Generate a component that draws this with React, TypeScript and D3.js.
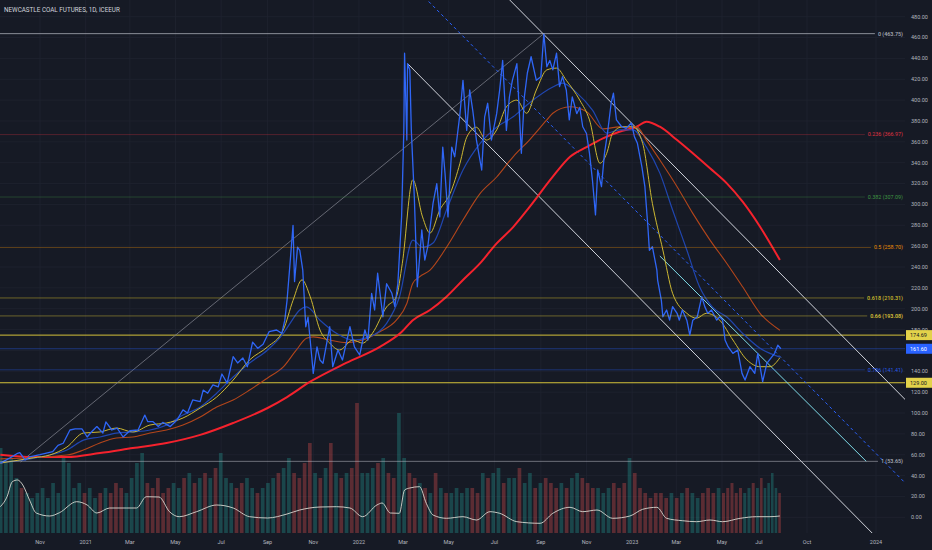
import React, { useRef, useEffect } from 'react';
import * as d3 from 'd3';

// Chart text
const title = 'NEWCASTLE COAL FUTURES, 1D, ICEEUR';

// Close prices [date, USD/t]
const priceData: [string, number][] = [
  ['2020-09-09', 52], ['2020-09-22', 57], ['2020-10-01', 61], ['2020-10-05', 62], ['2020-10-12', 55],
  ['2020-10-18', 58], ['2020-11-01', 60], ['2020-11-18', 63], ['2020-11-25', 69], ['2020-12-02', 71],
  ['2020-12-11', 83.7], ['2020-12-18', 84.7], ['2020-12-27', 84.7], ['2021-01-03', 77], ['2021-01-09', 82],
  ['2021-01-16', 87], ['2021-01-24', 80.8], ['2021-01-28', 91.4], ['2021-02-05', 83.7], ['2021-02-12', 85.6],
  ['2021-02-20', 77], ['2021-03-01', 83], ['2021-03-12', 83.7], ['2021-03-21', 98], ['2021-03-25', 91.7],
  ['2021-04-01', 91.7], ['2021-04-08', 87], ['2021-04-14', 91], ['2021-04-24', 87], ['2021-05-03', 93.3],
  ['2021-05-11', 103], ['2021-05-17', 100], ['2021-05-24', 112.5], ['2021-06-03', 111], ['2021-06-07', 122],
  ['2021-06-13', 119], ['2021-06-20', 127], ['2021-06-27', 125], ['2021-07-02', 137.4], ['2021-07-09', 128.7],
  ['2021-07-17', 154], ['2021-07-23', 148], ['2021-07-30', 152.7], ['2021-08-05', 144.4], ['2021-08-12', 168],
  ['2021-08-19', 162], ['2021-08-26', 166], ['2021-09-03', 178], ['2021-09-13', 179.6], ['2021-09-20', 176.4],
  ['2021-09-24', 189], ['2021-09-27', 208], ['2021-10-01', 243.5], ['2021-10-05', 280], ['2021-10-07', 226],
  ['2021-10-11', 259], ['2021-10-14', 256], ['2021-10-18', 237], ['2021-10-22', 182.7], ['2021-10-25', 192],
  ['2021-10-30', 154], ['2021-11-01', 138], ['2021-11-06', 163.5], ['2021-11-10', 150.8], ['2021-11-14', 147.6],
  ['2021-11-23', 182.7], ['2021-11-27', 144.4], ['2021-12-04', 160.4], ['2021-12-10', 150.8], ['2021-12-20', 182.7],
  ['2021-12-26', 163.5], ['2022-01-02', 155.6], ['2022-01-09', 179.6], ['2022-01-13', 170], ['2022-01-18', 214.8],
  ['2022-01-22', 198.8], ['2022-01-26', 234], ['2022-02-02', 192.3], ['2022-02-07', 224], ['2022-02-14', 214.8],
  ['2022-02-18', 202], ['2022-02-22', 224], ['2022-02-27', 288], ['2022-03-02', 371], ['2022-03-03', 445],
  ['2022-03-06', 361.7], ['2022-03-07', 435], ['2022-03-10', 429], ['2022-03-12', 371], ['2022-03-16', 307],
  ['2022-03-20', 221], ['2022-03-26', 275.5], ['2022-03-30', 246.7], ['2022-04-03', 259.5], ['2022-04-10', 301],
  ['2022-04-15', 320], ['2022-04-19', 288], ['2022-04-23', 355], ['2022-04-26', 330], ['2022-04-30', 288],
  ['2022-05-05', 355], ['2022-05-09', 345.7], ['2022-05-16', 387], ['2022-05-20', 419], ['2022-05-25', 371],
  ['2022-05-29', 409.7], ['2022-06-02', 390.5], ['2022-06-07', 361.7], ['2022-06-14', 333], ['2022-06-18', 384],
  ['2022-06-22', 397], ['2022-06-27', 361.7], ['2022-07-04', 387], ['2022-07-08', 409.7], ['2022-07-12', 438],
  ['2022-07-17', 371], ['2022-07-21', 403], ['2022-07-25', 419], ['2022-07-31', 435], ['2022-08-06', 349],
  ['2022-08-10', 403], ['2022-08-14', 426], ['2022-08-19', 441.6], ['2022-08-26', 419], ['2022-09-01', 422.5],
  ['2022-09-05', 463.75], ['2022-09-09', 432], ['2022-09-13', 438], ['2022-09-17', 429], ['2022-09-22', 445],
  ['2022-09-26', 413], ['2022-09-30', 422.5], ['2022-10-05', 409.7], ['2022-10-09', 381], ['2022-10-13', 403],
  ['2022-10-19', 387], ['2022-10-23', 393], ['2022-10-27', 374.5], ['2022-11-01', 368], ['2022-11-05', 349],
  ['2022-11-09', 323], ['2022-11-13', 290], ['2022-11-16', 333], ['2022-11-21', 317], ['2022-11-25', 349],
  ['2022-11-29', 368], ['2022-12-04', 397.5], ['2022-12-07', 406.6], ['2022-12-11', 381], ['2022-12-18', 374.5],
  ['2022-12-24', 373], ['2022-12-31', 378], ['2023-01-04', 365], ['2023-01-08', 358.6], ['2023-01-14', 336],
  ['2023-01-18', 317], ['2023-01-22', 278.6], ['2023-01-24', 256], ['2023-01-28', 259.5], ['2023-02-03', 237],
  ['2023-02-04', 227.5], ['2023-02-09', 208], ['2023-02-11', 192.3], ['2023-02-16', 198.8], ['2023-02-20', 189],
  ['2023-02-24', 202], ['2023-03-02', 195.6], ['2023-03-05', 189], ['2023-03-09', 198.8], ['2023-03-15', 189],
  ['2023-03-19', 174.8], ['2023-03-23', 189], ['2023-03-29', 192.3], ['2023-04-04', 211.5], ['2023-04-08', 202],
  ['2023-04-12', 195.6], ['2023-04-17', 198.8], ['2023-04-24', 189], ['2023-04-28', 192.3], ['2023-05-02', 189],
  ['2023-05-06', 170], ['2023-05-11', 163.6], ['2023-05-19', 157.2], ['2023-05-27', 160.4], ['2023-06-03', 138],
  ['2023-06-08', 131.6], ['2023-06-16', 144.4], ['2023-06-24', 138], ['2023-06-29', 157.2], ['2023-07-08', 130],
  ['2023-07-16', 147.6], ['2023-07-26', 154], ['2023-07-31', 157.2], ['2023-08-06', 165], ['2023-08-12', 161.6],
];

// Moving averages
const maFast: [string, number][] = [
  ['2020-09-09', 52], ['2020-10-23', 57], ['2020-11-14', 59.7], ['2020-12-07', 67.4], ['2020-12-29', 80.8],
  ['2021-01-20', 81.8], ['2021-02-11', 85.6], ['2021-03-05', 81.8], ['2021-03-28', 88.5], ['2021-04-19', 90.4],
  ['2021-05-11', 95.2], ['2021-06-03', 104.8], ['2021-06-25', 115.3], ['2021-07-17', 131.6], ['2021-08-08', 150.9],
  ['2021-09-01', 163.4], ['2021-09-22', 179.6], ['2021-10-05', 208], ['2021-10-17', 227.7], ['2021-10-28', 211.4],
  ['2021-11-10', 179.6], ['2021-11-23', 167.1], ['2021-12-06', 160.4], ['2021-12-24', 170], ['2022-01-06', 167],
  ['2022-01-19', 176.4], ['2022-02-07', 201.7], ['2022-02-20', 211.4], ['2022-02-28', 243.6], ['2022-03-14', 323.6],
  ['2022-03-27', 288], ['2022-04-06', 272.5], ['2022-04-19', 294.6], ['2022-05-03', 310.7], ['2022-05-16', 339.5],
  ['2022-05-25', 364.4], ['2022-06-07', 374], ['2022-06-20', 361.7], ['2022-07-04', 371.4], ['2022-07-17', 393.6],
  ['2022-07-31', 400], ['2022-08-13', 387.4], ['2022-08-26', 409.7], ['2022-09-09', 429], ['2022-09-22', 430.7],
  ['2022-10-05', 419], ['2022-10-23', 400], ['2022-11-05', 381], ['2022-11-19', 339.5], ['2022-11-28', 349],
  ['2022-12-06', 368.4], ['2022-12-19', 374.4], ['2023-01-02', 374.4], ['2023-01-15', 358.6], ['2023-01-28', 301],
  ['2023-02-11', 256.3], ['2023-02-24', 214.8], ['2023-03-15', 195.6], ['2023-03-28', 190.9], ['2023-04-10', 195.6],
  ['2023-04-28', 189], ['2023-05-19', 170], ['2023-06-11', 151], ['2023-07-03', 144.4], ['2023-07-22', 144.4],
  ['2023-08-10', 153],
];
const maMid: [string, number][] = [
  ['2020-09-09', 52], ['2020-11-14', 59.7], ['2020-12-07', 64.5], ['2020-12-29', 74], ['2021-01-20', 77],
  ['2021-02-11', 80.8], ['2021-03-05', 81.8], ['2021-03-28', 83.7], ['2021-04-19', 88.5], ['2021-05-11', 98],
  ['2021-06-03', 105.8], ['2021-06-25', 119], ['2021-07-17', 134.5], ['2021-08-08', 148], ['2021-09-01', 160.4],
  ['2021-09-22', 176.4], ['2021-10-01', 186], ['2021-10-14', 198.8], ['2021-10-23', 201.7], ['2021-11-10', 189],
  ['2021-12-02', 176.4], ['2021-12-24', 170], ['2022-01-15', 173], ['2022-02-07', 186], ['2022-02-24', 211],
  ['2022-03-14', 265.8], ['2022-03-27', 259], ['2022-04-10', 263], ['2022-04-28', 294.6], ['2022-05-20', 333],
  ['2022-06-12', 358.6], ['2022-07-04', 374], ['2022-07-26', 384], ['2022-08-17', 397.5], ['2022-09-17', 412.6],
  ['2022-09-30', 416.4], ['2022-10-19', 407], ['2022-11-09', 390.5], ['2022-11-28', 368.4], ['2022-12-15', 371.4],
  ['2023-01-02', 371.4], ['2023-01-20', 355], ['2023-02-07', 330], ['2023-02-24', 294.6], ['2023-03-15', 256.3],
  ['2023-04-01', 221], ['2023-04-18', 201.7], ['2023-05-09', 192], ['2023-06-04', 176.4], ['2023-07-03', 162],
  ['2023-08-10', 153.6],
];
const maSlow: [string, number][] = [
  ['2020-09-09', 56], ['2020-12-07', 59.7], ['2020-12-29', 64.5], ['2021-01-20', 71.2], ['2021-02-11', 76],
  ['2021-03-05', 77], ['2021-03-28', 80.8], ['2021-04-19', 83.7], ['2021-05-11', 88.5], ['2021-06-03', 96.2],
  ['2021-06-25', 105.8], ['2021-07-17', 112.5], ['2021-08-08', 122], ['2021-09-01', 133.6], ['2021-09-22', 144.2],
  ['2021-10-09', 160], ['2021-10-23', 171.6], ['2021-11-01', 173], ['2021-11-23', 170], ['2021-12-15', 167.5],
  ['2022-01-06', 170], ['2022-01-29', 178], ['2022-02-20', 189], ['2022-03-06', 205], ['2022-03-14', 224.5],
  ['2022-03-23', 230.6], ['2022-04-06', 237], ['2022-04-28', 259], ['2022-05-20', 285], ['2022-06-12', 310.6],
  ['2022-07-04', 326.3], ['2022-07-26', 345.7], ['2022-08-17', 362], ['2022-09-09', 381], ['2022-09-17', 387.4],
  ['2022-10-10', 393.6], ['2022-11-01', 389], ['2022-11-23', 372.4], ['2022-12-15', 374.4], ['2023-01-07', 374.4],
  ['2023-01-20', 361.7], ['2023-02-07', 342.6], ['2023-03-02', 317], ['2023-03-23', 291.4], ['2023-04-15', 265.8],
  ['2023-05-09', 243.4], ['2023-06-04', 221], ['2023-07-03', 195.6], ['2023-08-10', 179.4],
];
const maLong: [string, number][] = [
  ['2020-09-09', 60], ['2020-10-23', 57.8], ['2020-12-07', 57.8], ['2021-01-20', 61.6], ['2021-03-05', 66.4],
  ['2021-04-19', 71.2], ['2021-06-03', 79], ['2021-07-17', 90.4], ['2021-09-01', 104.8], ['2021-09-27', 115.3],
  ['2021-10-28', 130], ['2021-12-15', 148], ['2022-01-29', 163.4], ['2022-02-27', 177.6], ['2022-03-14', 189],
  ['2022-04-06', 198.8], ['2022-04-28', 211.5], ['2022-05-20', 227.5], ['2022-06-12', 243.7], ['2022-07-04', 262.6],
  ['2022-07-26', 278.3], ['2022-08-17', 297.6], ['2022-09-17', 326.6], ['2022-10-10', 345.7], ['2022-11-01', 355],
  ['2022-11-23', 363.4], ['2022-12-15', 369.7], ['2023-01-07', 374.5], ['2023-01-20', 379.3], ['2023-02-07', 374.5],
  ['2023-03-02', 361.7], ['2023-03-23', 349], ['2023-04-15', 334.6], ['2023-05-09', 320.2], ['2023-06-04', 302.6],
  ['2023-07-03', 278.6], ['2023-08-10', 246.7],
];

// Oscillator in the lower pane
const oscData: [string, number][] = [
  ['2020-09-09', 26.3], ['2020-09-18', 36.3], ['2020-09-25', 51.3], ['2020-10-02', 53], ['2020-10-09', 48],
  ['2020-10-18', 33], ['2020-10-27', 20], ['2020-11-14', 17], ['2020-11-27', 20.3], ['2020-12-20', 31.3],
  ['2021-01-03', 28], ['2021-01-16', 20], ['2021-02-02', 25], ['2021-02-25', 25], ['2021-03-10', 25],
  ['2021-03-23', 36.3], ['2021-04-09', 36], ['2021-04-23', 21.3], ['2021-05-06', 16.3], ['2021-05-29', 21.3],
  ['2021-06-25', 28], ['2021-07-17', 25], ['2021-08-08', 16.3], ['2021-09-01', 15], ['2021-09-27', 19],
  ['2021-10-14', 23], ['2021-11-10', 26], ['2021-12-02', 26.3], ['2021-12-20', 25], ['2022-01-06', 16.3],
  ['2022-01-25', 28], ['2022-02-01', 30], ['2022-02-12', 20], ['2022-02-24', 19.7], ['2022-03-03', 43],
  ['2022-03-10', 45], ['2022-03-23', 46.3], ['2022-04-01', 29.7], ['2022-04-10', 18], ['2022-04-28', 14.7],
  ['2022-05-20', 16.3], ['2022-06-07', 13], ['2022-06-25', 21.3], ['2022-07-08', 19.7], ['2022-07-31', 11.3],
  ['2022-08-31', 9.7], ['2022-09-17', 19.7], ['2022-10-10', 25.7], ['2022-10-27', 21.3], ['2022-11-15', 23],
  ['2022-12-06', 14.7], ['2022-12-29', 17], ['2023-01-15', 23.7], ['2023-02-03', 25.7], ['2023-02-16', 14.7],
  ['2023-03-09', 12.3], ['2023-03-28', 11.3], ['2023-04-15', 13], ['2023-05-02', 11.3], ['2023-05-31', 14.7],
  ['2023-06-27', 16.3], ['2023-07-22', 16.3], ['2023-08-10', 17],
];

// Weekly volume (weeks starting Monday 2020-09-07)
const volumeStart = '2020-09-07';
const volumes: number[] = [
  85, 70, 75, 55, 45, 40, 35, 40, 45, 35, 50, 40, 75, 70, 45, 50, 40, 45, 35, 40,
  45, 40, 50, 45, 40, 55, 70, 80, 50, 45, 55, 40, 45, 50, 45, 55, 60, 50, 55, 60,
  55, 65, 80, 55, 50, 45, 50, 55, 45, 40, 45, 50, 55, 60, 65, 75, 60, 55, 70, 90,
  60, 55, 65, 90, 60, 55, 60, 65, 130, 60, 60, 65, 70, 75, 60, 55, 120, 75, 60, 55,
  50, 45, 40, 60, 45, 40, 40, 45, 40, 45, 45, 40, 60, 55, 60, 65, 50, 55, 55, 65,
  50, 60, 45, 50, 55, 50, 45, 50, 45, 55, 60, 55, 50, 45, 45, 40, 45, 50, 45, 50,
  75, 60, 45, 40, 35, 40, 40, 35, 40, 35, 40, 45, 40, 35, 40, 45, 40, 45, 40, 45,
  50, 40, 45, 40, 45, 50, 45, 55, 45, 50, 60, 45, 40,
];

// Fibonacci retracement (low Oct 2020 -> high Sep 2022)
const fibRatios = ['0', '0.236', '0.382', '0.5', '0.618', '0.66', '0.786', '1'];
const fibValues = [463.75, 366.97, 307.09, 258.7, 210.31, 193.08, 141.41, 53.65];

// Horizontal levels and last price
const levelValues = [174.69, 129.0];
const lastPrice = 161.6;

// Drawn trend lines [date, price]
const riseLine: [string, number][] = [['2020-10-06', 53], ['2022-09-05', 463.75]];
const channelLower: [string, number][] = [['2022-03-07', 435], ['2024-02-11', -48.6]];
const channelWidth = 160;
const cyanLine: [string, number][] = [['2023-02-07', 250.5], ['2023-12-19', 53.65]];

// Axis ticks
const yTicks = [0, 20, 40, 60, 80, 100, 120, 140, 160, 180, 200, 220, 240, 260, 280, 300, 320, 340, 360, 380, 400, 420, 440, 460, 480];
const xTickDates = [
  '2020-11-01', '2021-01-01', '2021-03-01', '2021-05-01', '2021-07-01', '2021-09-01', '2021-11-01',
  '2022-01-01', '2022-03-01', '2022-05-01', '2022-07-01', '2022-09-01', '2022-11-01', '2023-01-01',
  '2023-03-01', '2023-05-01', '2023-07-01', '2023-10-01', '2024-01-01',
];
const xTickLabels = ['Nov', '2021', 'Mar', 'May', 'Jul', 'Sep', 'Nov', '2022', 'Mar', 'May', 'Jul', 'Sep', 'Nov', '2023', 'Mar', 'May', 'Jul', 'Oct', '2024'];

const W = 932;
const H = 550;
const plotRight = 905;
const paneBottom = 533;
const BG = '#161a25';
const GRID = '#1f2330';
const AXIS_TEXT = '#b2b5be';
const FONT = 'Roboto, "Noto Sans", sans-serif';

const fibColors: Record<string, string> = {
  '0': '#b2b5be', '0.236': '#f23645', '0.382': '#43a047', '0.5': '#ff9800',
  '0.618': '#d6c12c', '0.66': '#e6d13a', '0.786': '#2962ff', '1': '#b2b5be',
};
const fibLineOpacity: Record<string, number> = {
  '0': 0.75, '0.236': 0.28, '0.382': 0.32, '0.5': 0.3, '0.618': 0.45, '0.66': 0.4, '0.786': 0.35, '1': 0.55,
};

export default function App() {
  const svgRef = useRef<SVGSVGElement>(null);

  useEffect(() => {
    const parse = d3.timeParse('%Y-%m-%d');
    const toPts = (arr: [string, number][]) => arr.map(([d, v]) => [parse(d) as Date, v] as [Date, number]);

    const svg = d3.select(svgRef.current);
    svg.selectAll('*').remove();

    // Scales (TradingView time axis is not quite linear at the right edge)
    const x = d3
      .scaleTime()
      .domain(['2020-11-01', '2023-05-01', '2023-07-01', '2023-10-01', '2024-01-01'].map((d) => parse(d) as Date))
      .range([40, 722, 759, 807, 876]);
    const y = d3.scaleLinear().domain([0, 480]).range([517.3, 16.7]);
    const yVol = d3.scaleLinear().domain([0, 140]).range([paneBottom, paneBottom - 140]);
    const yOsc = d3.scaleLinear().domain([0, 60]).range([paneBottom, paneBottom - 60]);

    svg.append('rect').attr('width', W).attr('height', H).attr('fill', BG);

    const defs = svg.append('defs');
    defs.append('clipPath').attr('id', 'pane').append('rect').attr('width', plotRight).attr('height', paneBottom);

    // Grid
    const grid = svg.append('g');
    yTicks.forEach((t) => {
      grid.append('line').attr('x1', 0).attr('x2', plotRight).attr('y1', y(t)).attr('y2', y(t))
        .attr('stroke', GRID).attr('stroke-width', 0.8);
    });
    xTickDates.forEach((d) => {
      const px = x(parse(d) as Date);
      grid.append('line').attr('x1', px).attr('x2', px).attr('y1', 0).attr('y2', paneBottom)
        .attr('stroke', GRID).attr('stroke-width', 0.8);
    });

    const pane = svg.append('g').attr('clip-path', 'url(#pane)');

    // Volume bars, coloured by the price move through the week
    const prices = toPts(priceData);
    const bis = d3.bisector((d: [Date, number]) => d[0]).left;
    const priceAt = (dt: Date) => {
      const i = Math.min(Math.max(bis(prices, dt), 1), prices.length - 1);
      const a = prices[i - 1];
      const b = prices[i];
      const t = (+dt - +a[0]) / (+b[0] - +a[0]);
      return a[1] + (b[1] - a[1]) * Math.max(0, Math.min(1, t));
    };
    const weekStarts = d3.timeMonday.range(parse(volumeStart) as Date, parse('2023-08-20') as Date).slice(0, volumes.length);
    weekStarts.forEach((wk, i) => {
      const next = d3.timeWeek.offset(wk, 1);
      const x0 = x(wk);
      const x1 = x(next);
      const up = priceAt(d3.timeDay.offset(next, -1)) >= priceAt(wk);
      pane.append('rect')
        .attr('x', x0)
        .attr('width', Math.max(1.2, (x1 - x0) * 0.7))
        .attr('y', yVol(volumes[i]))
        .attr('height', paneBottom - yVol(volumes[i]))
        .attr('fill', up ? '#26a69a' : '#ef5350')
        .attr('opacity', 0.32);
    });

    // Oscillator
    pane.append('path')
      .datum(toPts(oscData))
      .attr('d', d3.line<[Date, number]>().x((d) => x(d[0])).y((d) => yOsc(d[1])).curve(d3.curveMonotoneX))
      .attr('fill', 'none')
      .attr('stroke', '#d8d8d0')
      .attr('stroke-width', 0.9);

    // Fib levels
    const fibG = svg.append('g');
    fibRatios.forEach((r, i) => {
      const v = fibValues[i];
      const txt = fibG.append('text')
        .attr('x', 903)
        .attr('y', y(v))
        .attr('dy', '0.35em')
        .attr('text-anchor', 'end')
        .attr('font-family', FONT)
        .attr('font-size', 5.4)
        .attr('font-weight', r === '0.66' || r === '0.618' || r === '0' || r === '1' ? 600 : 400)
        .attr('fill', fibColors[r])
        .attr('opacity', 0.9)
        .text(`${r} (${v.toFixed(2)})`);
      const tw = (txt.node() as SVGTextElement).getComputedTextLength();
      fibG.insert('line', 'text')
        .attr('x1', 0).attr('x2', 903 - tw - 3)
        .attr('y1', y(v)).attr('y2', y(v))
        .attr('stroke', fibColors[r])
        .attr('stroke-opacity', fibLineOpacity[r])
        .attr('stroke-width', 1);
    });

    // Horizontal levels
    levelValues.forEach((v) => {
      pane.append('line').attr('x1', 0).attr('x2', plotRight).attr('y1', y(v)).attr('y2', y(v))
        .attr('stroke', '#d4c23a').attr('stroke-width', 1);
    });
    pane.append('line').attr('x1', 0).attr('x2', plotRight).attr('y1', y(lastPrice)).attr('y2', y(lastPrice))
      .attr('stroke', '#2962ff').attr('stroke-opacity', 0.4).attr('stroke-width', 1);

    // Trend lines
    const seg = (pts: [string, number][], offset = 0) => {
      const p = toPts(pts);
      return { x1: x(p[0][0]), y1: y(p[0][1] + offset), x2: x(p[1][0]), y2: y(p[1][1] + offset) };
    };
    const drawSeg = (s: ReturnType<typeof seg>, color: string, w: number, dash?: string) => {
      const l = pane.append('line')
        .attr('x1', s.x1).attr('y1', s.y1).attr('x2', s.x2).attr('y2', s.y2)
        .attr('stroke', color).attr('stroke-width', w);
      if (dash) l.attr('stroke-dasharray', dash);
    };
    drawSeg(seg(riseLine), '#787b86', 0.8);
    drawSeg(seg(channelLower), '#d1d4dc', 1);
    drawSeg(seg(channelLower, channelWidth), '#d1d4dc', 1);
    drawSeg(seg(channelLower, channelWidth / 2), '#2962ff', 1, '3,3');
    drawSeg(seg(cyanLine), '#7fdbe8', 1);

    // Moving averages
    const maLine = d3.line<[Date, number]>().x((d) => x(d[0])).y((d) => y(d[1])).curve(d3.curveMonotoneX);
    const mas: [[string, number][], string, number][] = [
      [maLong, '#f5222d', 2],
      [maSlow, '#b4461b', 1.1],
      [maMid, '#2046b0', 1.2],
      [maFast, '#cdb832', 1],
    ];
    mas.forEach(([data, color, w]) => {
      pane.append('path').datum(toPts(data)).attr('d', maLine)
        .attr('fill', 'none').attr('stroke', color).attr('stroke-width', w);
    });

    // Price
    pane.append('path')
      .datum(prices)
      .attr('d', d3.line<[Date, number]>().x((d) => x(d[0])).y((d) => y(d[1])))
      .attr('fill', 'none')
      .attr('stroke', '#2f66f6')
      .attr('stroke-width', 1.3)
      .attr('stroke-linejoin', 'round');

    // Right price axis
    const axisG = svg.append('g').attr('font-family', FONT).attr('font-size', 5.5).attr('fill', AXIS_TEXT);
    yTicks.forEach((t) => {
      axisG.append('text').attr('x', 911).attr('y', y(t)).attr('dy', '0.35em').text(d3.format('.2f')(t));
    });

    // Price boxes
    const box = (v: number, fill: string, textFill: string) => {
      svg.append('rect').attr('x', 906).attr('y', y(v) - 5).attr('width', 26).attr('height', 10).attr('fill', fill);
      svg.append('text').attr('x', 910).attr('y', y(v)).attr('dy', '0.35em')
        .attr('font-family', FONT).attr('font-size', 5.5).attr('fill', textFill).text(v.toFixed(2));
    };
    box(levelValues[0], '#e3d24a', '#131722');
    box(lastPrice, '#2962ff', '#ffffff');
    box(levelValues[1], '#e3d24a', '#131722');

    // Time axis
    const tAxis = svg.append('g').attr('font-family', FONT).attr('font-size', 5.5).attr('fill', AXIS_TEXT);
    xTickDates.forEach((d, i) => {
      tAxis.append('text').attr('x', x(parse(d) as Date)).attr('y', 544).attr('text-anchor', 'middle').text(xTickLabels[i]);
    });

    // Title
    svg.append('text').attr('x', 4).attr('y', 12)
      .attr('font-family', FONT).attr('font-size', 6.3).attr('fill', '#d1d4dc').text(title);
  }, []);

  return <svg ref={svgRef} width={W} height={H} style={{ position: 'absolute', left: 0, top: 0 }} />;
}
